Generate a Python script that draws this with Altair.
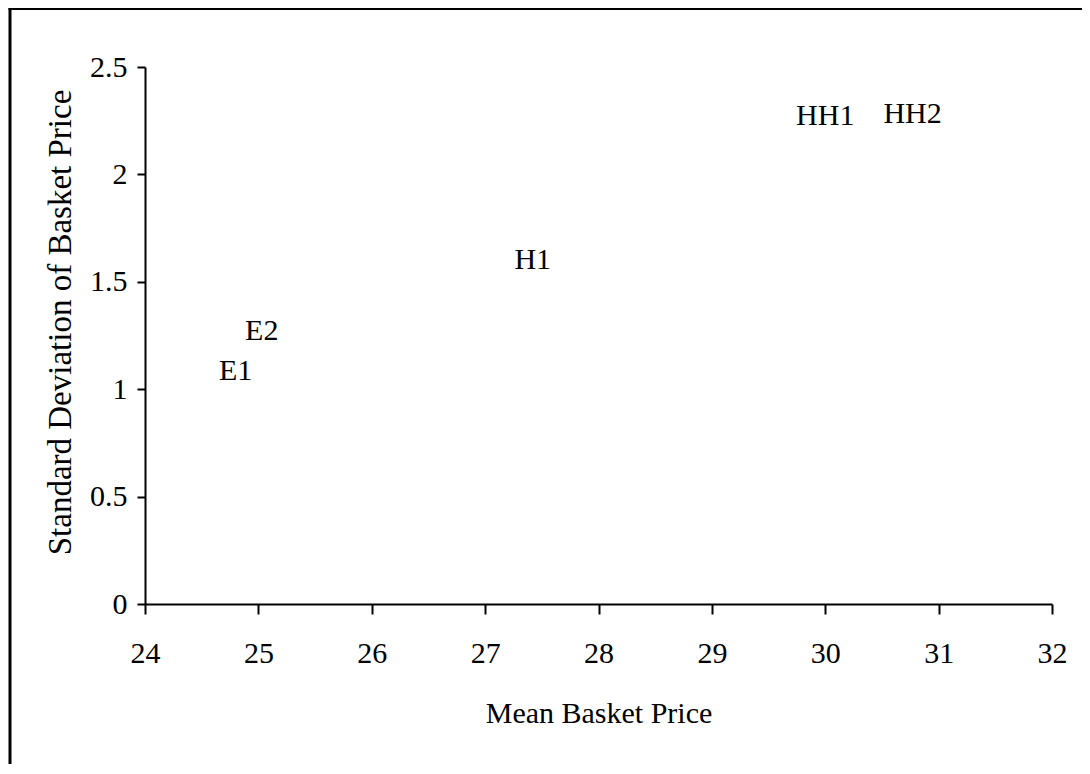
import altair as alt
import pandas as pd

labels = ["E1", "E2", "H1", "HH1", "HH2"]
mean_price = [24.80, 25.03, 27.42, 30.00, 30.77]
sd_price = [1.085, 1.27, 1.60, 2.27, 2.28]

x_ticks = [24, 25, 26, 27, 28, 29, 30, 31, 32]
y_ticks = [0, 0.5, 1, 1.5, 2, 2.5]

df = pd.DataFrame({"label": labels, "mean": mean_price, "sd": sd_price})

FONT = "Liberation Serif"

base = alt.Chart(df)

text = base.mark_text(font=FONT, fontSize=30, color="black", align="center", baseline="middle").encode(
    x=alt.X("mean:Q",
            scale=alt.Scale(domain=[24, 32], nice=False, zero=False),
            axis=alt.Axis(values=x_ticks, title="Mean Basket Price", grid=False, format="~g",
                          domainColor="black", domainWidth=2, tickColor="black", tickWidth=2,
                          tickSize=10, labelPadding=24, labelFont=FONT, labelFontSize=30,
                          labelColor="black", labelFlush=False,
                          titleFont=FONT, titleFontSize=30, titleFontWeight="normal",
                          titleColor="black", titleY=109, titleBaseline="middle")),
    y=alt.Y("sd:Q",
            scale=alt.Scale(domain=[0, 2.5], nice=False),
            axis=alt.Axis(values=y_ticks, title="Standard Deviation of Basket Price", grid=False,
                          format="~g",
                          domainColor="black", domainWidth=2, tickColor="black", tickWidth=2,
                          tickSize=8, labelPadding=10, labelFont=FONT, labelFontSize=30,
                          labelColor="black", labelFlush=False,
                          titleFont=FONT, titleFontSize=33, titleFontWeight="normal",
                          titleColor="black", titleAngle=-90, titleX=-85, titleY=255,
                          titleBaseline="middle", titleAlign="center")),
    text="label:N",
)

frame_left = alt.Chart(pd.DataFrame({"a": [0]})).mark_rule(color="black", strokeWidth=3).encode(
    x=alt.value(-135), y=alt.value(-59), y2=alt.value(800)
)
frame_top = alt.Chart(pd.DataFrame({"a": [0]})).mark_rule(color="black", strokeWidth=3).encode(
    x=alt.value(-136.5), x2=alt.value(1000), y=alt.value(-58.5)
)

chart = alt.layer(frame_left, frame_top, text).properties(
    width=907, height=537,
    autosize=alt.AutoSizeParams(type="none"),
    padding={"left": 137, "top": 59, "right": 30, "bottom": 160},
    background="white",
).configure_view(stroke=None)

chart.save("out.html", embed_options={"renderer": "svg", "actions": False})
